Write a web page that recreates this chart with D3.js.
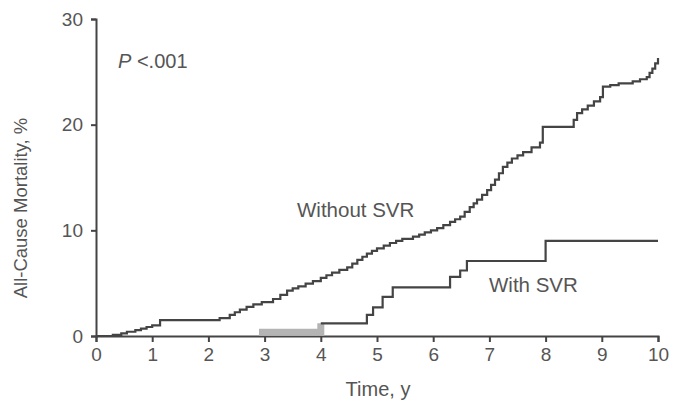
<!DOCTYPE html>
<html>
<head>
<meta charset="utf-8">
<script src="https://cdn.jsdelivr.net/npm/d3@7"></script>
<style>
  html, body { margin: 0; padding: 0; background: #fff; }
  svg { display: block; font-family: "Liberation Sans", Arial, sans-serif; }
</style>
</head>
<body>
<svg id="chart" width="676" height="407"></svg>
<script>
// Cumulative all-cause mortality (%) by follow-up time (years)
const withoutSvrTime  = [0, 0.3, 0.45, 0.55, 0.7, 0.8, 0.9, 1.0, 1.14, 2.08, 2.2, 2.38, 2.47, 2.56, 2.68, 2.8, 2.95, 3.15, 3.28, 3.4, 3.5, 3.6, 3.73, 3.86, 4.0, 4.1, 4.2, 4.33, 4.47, 4.56, 4.65, 4.74, 4.82, 4.91, 5.0, 5.12, 5.23, 5.34, 5.45, 5.64, 5.75, 5.85, 5.96, 6.07, 6.18, 6.3, 6.39, 6.48, 6.56, 6.65, 6.72, 6.78, 6.87, 6.96, 7.03, 7.1, 7.17, 7.24, 7.32, 7.4, 7.5, 7.6, 7.75, 7.9, 7.95, 8.43, 8.5, 8.56, 8.65, 8.75, 8.86, 8.97, 9.02, 9.15, 9.3, 9.55, 9.68, 9.8, 9.85, 9.9, 9.95, 10.0];
const withoutSvrValue = [0, 0.1, 0.25, 0.4, 0.55, 0.7, 0.85, 1.0, 1.5, 1.5, 1.7, 2.0, 2.25, 2.5, 2.75, 3.0, 3.2, 3.5, 3.9, 4.3, 4.5, 4.7, 4.95, 5.2, 5.5, 5.75, 6.0, 6.25, 6.5, 6.85, 7.2, 7.5, 7.8, 8.05, 8.3, 8.55, 8.8, 9.0, 9.2, 9.4, 9.6, 9.8, 10.0, 10.2, 10.5, 10.8, 11.05, 11.3, 11.75, 12.2, 12.55, 12.9, 13.35, 13.8, 14.3, 14.8, 15.4, 16.0, 16.4, 16.8, 17.1, 17.4, 17.85, 18.3, 19.8, 19.8, 20.45, 21.1, 21.45, 21.8, 22.2, 22.6, 23.6, 23.75, 23.9, 24.1, 24.3, 24.5, 24.9, 25.3, 25.8, 26.3];

const withSvrTime  = [0, 2.9, 4.0, 4.82, 4.93, 5.1, 5.28, 6.12, 6.3, 6.48, 6.6, 8.0, 10.0];
const withSvrValue = [0, 0.35, 1.2, 2.0, 2.7, 3.7, 4.6, 4.6, 5.6, 6.2, 7.1, 9.0, 9.0];

const xTicks = [0, 1, 2, 3, 4, 5, 6, 7, 8, 9, 10];
const yTicks = [0, 10, 20, 30];

const xTitle = "Time, y";
const yTitle = "All-Cause Mortality, %";
const pLabel = ["P", " <.001"];
const seriesLabels = ["Without SVR", "With SVR"];

const svg = d3.select("#chart");
const ink = "#444";
const textInk = "#555";

const x = d3.scaleLinear().domain([0, 10]).range([96, 658]);
const y = d3.scaleLinear().domain([0, 30]).range([336, 19]);

// Axes
const xAxis = svg.append("g")
  .attr("transform", `translate(0,${y(0)})`)
  .call(d3.axisBottom(x).tickValues(xTicks).tickSize(6).tickPadding(6).tickFormat(d3.format("d")));
const yAxis = svg.append("g")
  .attr("transform", `translate(${x(0)},0)`)
  .call(d3.axisLeft(y).tickValues(yTicks).tickSize(5).tickPadding(8).tickFormat(d3.format("d")));

[xAxis, yAxis].forEach(g => {
  g.select(".domain").attr("stroke", ink).attr("stroke-width", 2);
  g.selectAll(".tick line").attr("stroke", ink).attr("stroke-width", 2);
  g.selectAll(".tick text").attr("fill", textInk).style("font-size", "19px");
});

// Axis titles
svg.append("text")
  .attr("x", 378).attr("y", 396)
  .attr("text-anchor", "middle")
  .attr("fill", textInk).style("font-size", "20px")
  .text(xTitle);

svg.append("text")
  .attr("transform", "translate(27,208) rotate(-90)")
  .attr("text-anchor", "middle")
  .attr("fill", textInk).style("font-size", "18.5px")
  .text(yTitle);

// Significance annotation
const pt = svg.append("text")
  .attr("x", 118).attr("y", 68)
  .attr("fill", textInk).style("font-size", "20px");
pt.append("tspan").style("font-style", "italic").text(pLabel[0]);
pt.append("tspan").text(pLabel[1]);

// Kaplan-Meier style step curves
const stepLine = d3.line()
  .x(d => x(d[0]))
  .y(d => y(d[1]))
  .curve(d3.curveStepAfter);

const withoutPts = withoutSvrTime.map((t, i) => [t, withoutSvrValue[i]]);
const withPts = withSvrTime.map((t, i) => [t, withSvrValue[i]]);

svg.append("path")
  .attr("d", stepLine(withoutPts))
  .attr("fill", "none").attr("stroke", ink).attr("stroke-width", 2.2);

// Early low-event stretch of the SVR group, drawn as a light band
const earlyWith = withPts.filter(d => d[0] >= 2.9 && d[0] <= 4.0);
svg.append("path")
  .attr("d", stepLine(earlyWith))
  .attr("fill", "none").attr("stroke", "#b4b4b4").attr("stroke-width", 7);

svg.append("path")
  .attr("d", stepLine(withPts.filter(d => d[0] >= 4.0)))
  .attr("fill", "none").attr("stroke", ink).attr("stroke-width", 2.2);

// Series labels
svg.append("text")
  .attr("x", 297).attr("y", 217)
  .attr("fill", textInk).style("font-size", "20.5px")
  .text(seriesLabels[0]);
svg.append("text")
  .attr("x", 489).attr("y", 292)
  .attr("fill", textInk).style("font-size", "20.5px")
  .text(seriesLabels[1]);
</script>
</body>
</html>
